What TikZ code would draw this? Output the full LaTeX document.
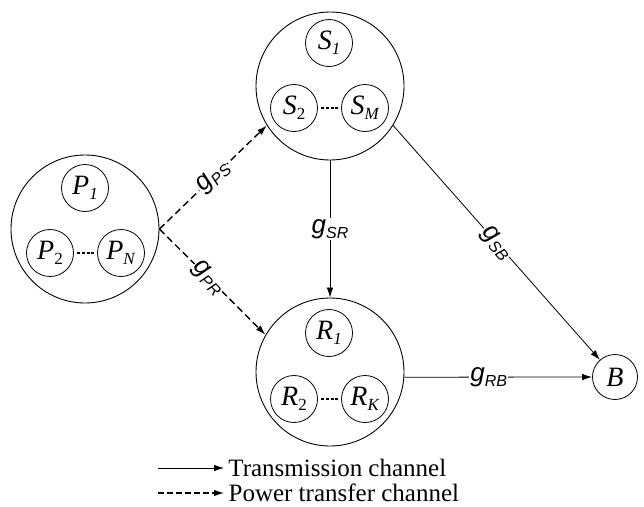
\documentclass[tikz,border=0pt]{standalone}
\usepackage{fontspec}
\setmainfont{Liberation Serif}
\newfontfamily\lsans{Liberation Sans}
\usetikzlibrary{arrows.meta}
\newcommand{\nsub}[1]{\raisebox{-5pt}{\fontsize{17}{17}\selectfont #1}}
\newcommand{\gsub}[1]{\raisebox{-5pt}{\fontsize{16}{16}\selectfont\textit{#1}}}
\begin{document}
\begin{tikzpicture}[x=1pt,y=-1pt,
  big/.style={circle,draw,line width=0.9pt,minimum size=148pt,inner sep=0pt},
  small/.style={circle,draw,line width=0.8pt,minimum size=47pt,inner sep=0pt,font=\fontsize{28}{28}\selectfont},
  tx/.style={line width=0.8pt,-{Latex[length=10pt,width=6.5pt]}},
  px/.style={line width=1.4pt,dash pattern=on 7pt off 4pt,-{Latex[length=10pt,width=6.5pt]}},
  dd/.style={line width=2.4pt,dash pattern=on 3pt off 1.6pt,shorten <=3.5pt,shorten >=3.5pt},
  glab/.style={fill=white,inner sep=1pt,font=\lsans\fontsize{26}{26}\selectfont},
  leg/.style={right,inner sep=4pt,font=\fontsize{25}{25}\selectfont}]
\useasboundingbox (0,0) rectangle (644,506);
% P group
\node[big] (P) at (85,229) {};
\node[small] (P1) at (85,188) {\textit{P}\nsub{\textit{1}}};
\node[small] (P2) at (50,253) {\textit{P}\nsub{2}};
\node[small] (PN) at (121,253) {\textit{P}\nsub{\textit{N}}};
\draw[dd] (P2) -- (PN);
% S group
\node[big] (S) at (330,86) {};
\node[small] (S1) at (329,43) {\textit{S}\nsub{\textit{1}}};
\node[small] (S2) at (294,108) {\textit{S}\nsub{2}};
\node[small] (SM) at (365,108) {\textit{S}\nsub{\textit{M}}};
\draw[dd] (S2) -- (SM);
% R group
\node[big] (R) at (330,372) {};
\node[small] (R1) at (329,333) {\textit{R}\nsub{\textit{1}}};
\node[small] (R2) at (294,399) {\textit{R}\nsub{2}};
\node[small] (RK) at (365,399) {\textit{R}\nsub{\textit{K}}};
\draw[dd] (R2) -- (RK);
% B
\node[circle,draw,line width=0.8pt,minimum size=45pt,inner sep=0pt,font=\fontsize{28}{28}\selectfont] (B) at (615,377) {\textit{B}};
% connectors
\draw[px] (P.east) -- (S.212) node[glab,pos=0.5,sloped] {\textit{g}\gsub{PS}};
\draw[px] (P.east) -- (R.150) node[glab,pos=0.46,sloped] {\textit{g}\gsub{PR}};
\draw[tx] (S.south) -- (R.north) node[glab,midway] {\textit{g}\gsub{SR}};
\draw[tx] (S.-32) -- (B) node[glab,pos=0.5,sloped] {\textit{g}\gsub{SB}};
\draw[tx] (R.-4) -- (B) node[glab,pos=0.45] {\textit{g}\gsub{RB}};
% legend
\coordinate (l1a) at (158,468); \coordinate (l1b) at (224,468);
\coordinate (l2a) at (158,493); \coordinate (l2b) at (224,493);
\draw[tx] (l1a) -- (l1b) node[leg] {Transmission channel};
\draw[px,line width=1.2pt,dash pattern=on 6pt off 3pt] (l2a) -- (l2b) node[leg] {Power transfer channel};
\end{tikzpicture}
\end{document}
